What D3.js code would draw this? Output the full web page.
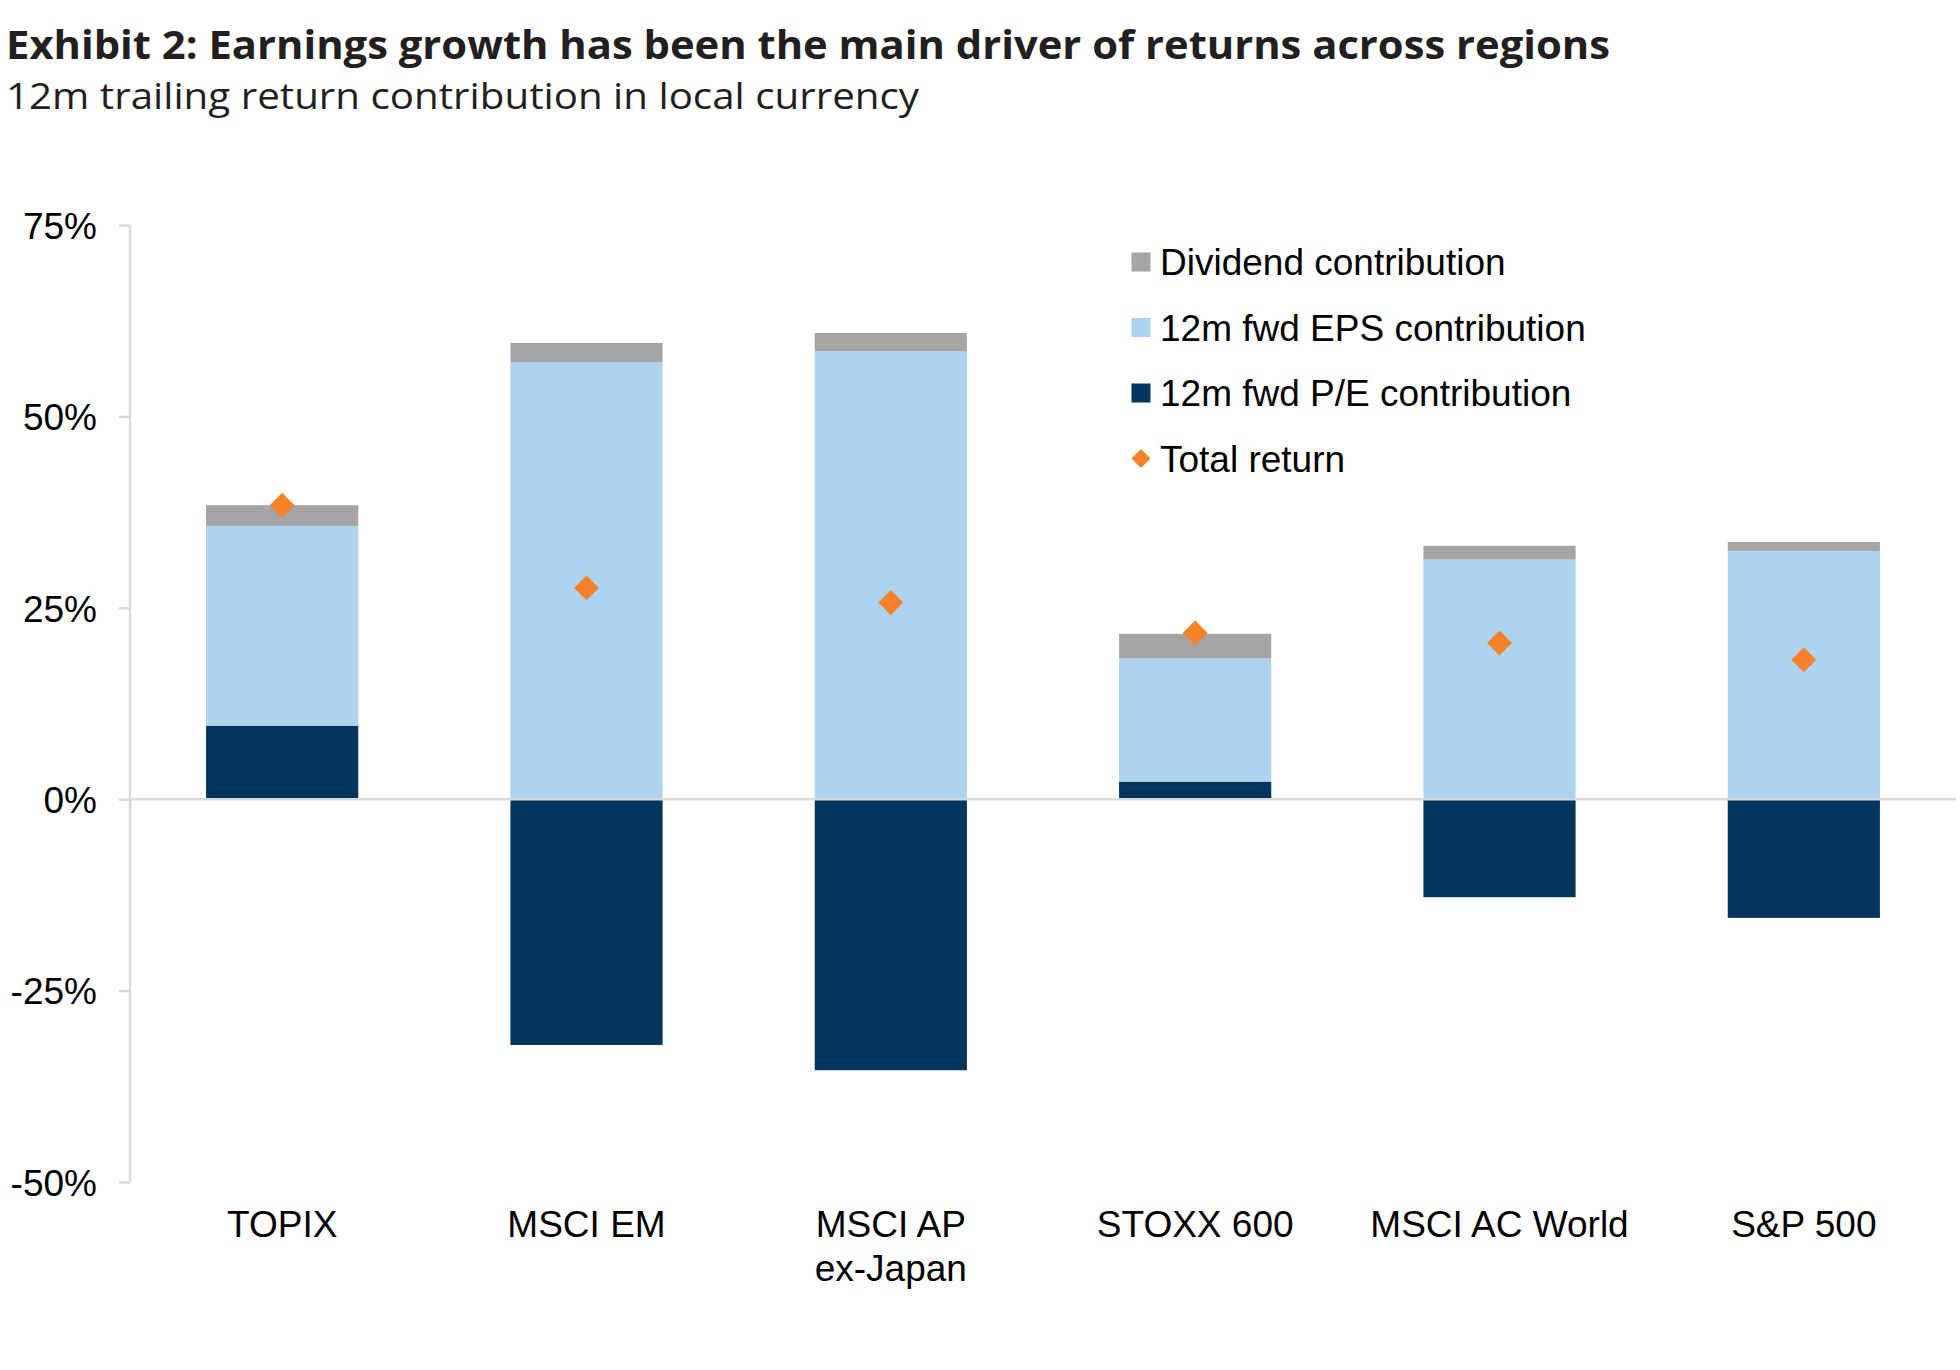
<!DOCTYPE html>
<html>
<head>
<meta charset="utf-8">
<script src="https://cdn.jsdelivr.net/npm/d3@7"></script>
<style>
  body { margin: 0; background: #fff; }
  .title { font-family: "Open Sans", sans-serif; font-weight: 700; fill: #231f20; }
  .subtitle { font-family: "Open Sans", sans-serif; font-weight: 400; fill: #231f20; }
  .lbl { font-family: "Liberation Sans", Arial, sans-serif; fill: #000; }
</style>
</head>
<body>
<div class="chart"></div>
<script>
;(function () {
  var W = 1960
  var H = 1370

  // data
  var categories = ['TOPIX', 'MSCI EM', 'MSCI AP ex-Japan', 'STOXX 600', 'MSCI AC World', 'S&P 500']
  var categoryLines = [['TOPIX'], ['MSCI EM'], ['MSCI AP', 'ex-Japan'], ['STOXX 600'], ['MSCI AC World'], ['S&P 500']]
  var peContribution = [9.6, -32.1, -35.4, 2.3, -12.8, -15.5]
  var epsContribution = [26.1, 57.1, 58.5, 16.1, 31.3, 32.4]
  var dividendContribution = [2.7, 2.5, 2.4, 3.2, 1.8, 1.2]
  var totalReturn = [38.4, 27.6, 25.7, 21.7, 20.4, 18.2]
  var yTicks = [75, 50, 25, 0, -25, -50]

  var series = [
    { key: 'pe', name: '12m fwd P/E contribution', color: '#02365f', values: peContribution },
    { key: 'eps', name: '12m fwd EPS contribution', color: '#add3ef', values: epsContribution },
    { key: 'div', name: 'Dividend contribution', color: '#a5a5a5', values: dividendContribution }
  ]

  var rows = categories.map(function (c, i) {
    var r = { cat: c, total: totalReturn[i] }
    series.forEach(function (s) { r[s.key] = s.values[i] })
    return r
  })

  var svg = d3.select('.chart').append('svg')
    .attr('width', W)
    .attr('height', H)

  var title = svg.append('text').attr('class', 'title')
    .attr('x', 6).attr('y', 59)
    .style('font-size', '40px')
    .text('Exhibit 2: Earnings growth has been the main driver of returns across regions')
  fitWidth(title, 1604)

  var sub = svg.append('text').attr('class', 'subtitle')
    .attr('x', 6).attr('y', 109)
    .style('font-size', '37px')
    .text('12m trailing return contribution in local currency')
  fitWidth(sub, 913)

  var x = d3.scaleBand().domain(categories).range([130, 1956]).paddingInner(0.5).paddingOuter(0.25)
  var y = d3.scaleLinear().domain([-50, 75]).range([1182, 225])

  // y axis
  var yAxis = d3.axisLeft(y).tickValues(yTicks).tickSize(11).tickPadding(22)
    .tickFormat(function (d) { return d + '%' })
  var gy = svg.append('g').attr('transform', 'translate(130,0)').call(yAxis)
  gy.select('.domain').attr('stroke', '#d9d9d9').attr('stroke-width', 2.5)
    .attr('d', 'M0,' + y(75) + 'V' + y(-50))
  gy.selectAll('.tick line').attr('stroke', '#d9d9d9').attr('stroke-width', 2.5)
  gy.selectAll('.tick text').attr('class', 'lbl').style('font-size', '37px').attr('dy', '0.36em')

  // stacked bars
  var stack = d3.stack().keys(series.map(function (s) { return s.key }))
    .offset(d3.stackOffsetDiverging)
  var stacked = stack(rows)

  svg.append('g').selectAll('g')
    .data(stacked)
    .join('g')
    .attr('fill', function (d, i) { return series[i].color })
    .selectAll('rect')
    .data(function (d) { return d })
    .join('rect')
    .attr('x', function (d) { return x(d.data.cat) })
    .attr('width', x.bandwidth())
    .attr('y', function (d) { return y(Math.max(d[0], d[1])) })
    .attr('height', function (d) { return Math.abs(y(d[0]) - y(d[1])) })

  // zero line
  svg.append('line')
    .attr('x1', 130).attr('x2', 1956)
    .attr('y1', y(0)).attr('y2', y(0))
    .attr('stroke', '#d9d9d9').attr('stroke-width', 2.5)

  // total return diamonds
  var diamond = d3.symbol().type(d3.symbolSquare).size(310)
  svg.append('g').selectAll('path')
    .data(rows)
    .join('path')
    .attr('d', diamond)
    .attr('fill', '#f58229')
    .attr('transform', function (d) {
      return 'translate(' + (x(d.cat) + x.bandwidth() / 2) + ',' + y(d.total) + ') rotate(45)'
    })

  // category labels
  var gx = svg.append('g')
  categories.forEach(function (c, i) {
    var t = gx.append('text').attr('class', 'lbl')
      .attr('text-anchor', 'middle')
      .attr('x', x(c) + x.bandwidth() / 2)
      .attr('y', 1237)
      .style('font-size', '37px')
    categoryLines[i].forEach(function (line, j) {
      t.append('tspan')
        .attr('x', x(c) + x.bandwidth() / 2)
        .attr('dy', j === 0 ? 0 : 44)
        .text(line)
    })
  })

  // legend
  var legendItems = [
    { name: series[2].name, color: series[2].color, type: 'square' },
    { name: series[1].name, color: series[1].color, type: 'square' },
    { name: series[0].name, color: series[0].color, type: 'square' },
    { name: 'Total return', color: '#f58229', type: 'diamond' }
  ]
  var lg = svg.append('g').attr('transform', 'translate(1141,262)')
  legendItems.forEach(function (item, i) {
    var row = lg.append('g').attr('transform', 'translate(0,' + (i * 65.5) + ')')
    if (item.type === 'square') {
      row.append('rect').attr('x', -9.5).attr('y', -9.5).attr('width', 19).attr('height', 19)
        .attr('fill', item.color)
    } else {
      row.append('path').attr('d', d3.symbol().type(d3.symbolSquare).size(180))
        .attr('transform', 'rotate(45)')
        .attr('fill', item.color)
    }
    row.append('text').attr('class', 'lbl')
      .attr('x', 19).attr('dy', '0.36em')
      .style('font-size', '37px')
      .text(item.name)
  })

  // stretch or squeeze a heading to the width it has in the original
  function fitWidth (sel, width) {
    var w = sel.node().getComputedTextLength()
    if (Math.abs(w - width) > 4) {
      sel.attr('textLength', width).attr('lengthAdjust', 'spacingAndGlyphs')
    }
  }
})()
</script>
</body>
</html>
